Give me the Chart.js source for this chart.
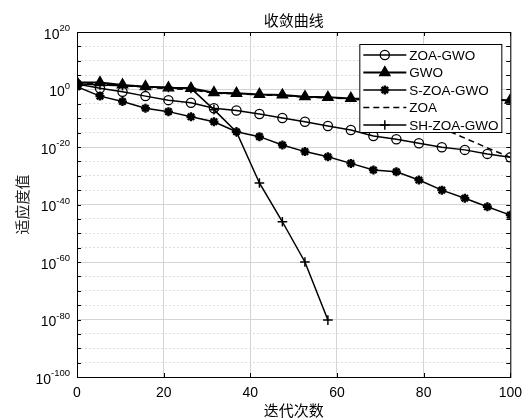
<!DOCTYPE html>
<html>
<head>
<meta charset="utf-8">
<script src="https://cdn.jsdelivr.net/npm/chart.js@4.4.0/dist/chart.umd.min.js"></script>
<style>
html, body { margin: 0; padding: 0; background: #fff; }
</style>
</head>
<body>
<canvas id="fitChart" width="530" height="419"></canvas>
<script>
// iteration numbers where the markers sit
const iterations = [0, 5.3, 10.5, 15.8, 21.1, 26.3, 31.6, 36.8, 42.1, 47.4, 52.6, 57.9, 63.2, 68.4, 73.7, 78.9, 84.2, 89.5, 94.7, 100];

// fitness values, stored as powers of ten
const zoaGwoExp = [1.9, 0.4, -0.8, -2.3, -3.7, -4.6, -6.5, -7.3, -8.5, -9.9, -11.2, -12.7, -14.1, -16.2, -17.3, -18.7, -20.1, -21.0, -22.4, -23.6];
const gwoExp = [2.4, 2.4, 1.6, 1.0, 0.6, 0.4, -1.1, -1.3, -1.7, -1.9, -2.5, -2.7, -3.1, -3.2, -3.3, -3.4, -3.5, -3.6, -3.6, -3.7];
const sZoaGwoExp = [1.0, -2.3, -4.2, -6.5, -7.7, -9.5, -11.2, -14.7, -16.4, -19.3, -21.6, -23.4, -25.7, -28.0, -28.6, -31.5, -35.0, -37.8, -40.8, -43.7];
const zoaExp = [2.2, 2.0, 1.4, 0.8, 0.3, 0.0, -1.3, -1.5, -1.9, -2.1, -2.7, -2.9, -3.3, -4.0, -6.4, -9.9, -13.4, -16.9, -20.3, -23.6];
const shZoaGwoExp = [2.0, 1.6, 1.3, 1.0, 0.7, 0.4, -7.0, -14.8, -32.5, -46.0, -60.0, -80.2];

const seriesNames = ['ZOA-GWO', 'GWO', 'S-ZOA-GWO', 'ZOA', 'SH-ZOA-GWO'];
const xTicks = [0, 20, 40, 60, 80, 100];
const yTickExps = [20, 0, -20, -40, -60, -80, -100];
const yGridExps = [20, 15, 10, 5, 0, -5, -10, -15, -20, -25, -30, -35, -40, -45, -50, -55, -60, -65, -70, -75, -80, -85, -90, -95, -100];

const titleText = '收敛曲线';
const xTitle = '迭代次数';
const yTitle = '适应度值';

const latinFont = '"Liberation Sans", Arial, "DejaVu Sans", sans-serif';
const cjkFont = '"Noto Sans CJK SC", "Liberation Sans", sans-serif';

function toPoints(exps) {
    return exps.map((e, i) => ({ x: iterations[i], y: Math.pow(10, e) }));
}

// frame with inward ticks, title, 10^n labels and the legend box inside the plot
const framePlugin = {
    id: 'frame',
    beforeDatasetsDraw(chart) {
        const a = chart.chartArea;
        const ctx = chart.ctx;
        const xs = chart.scales.x, ys = chart.scales.y;
        ctx.save();
        ctx.strokeStyle = '#000';
        ctx.lineWidth = 1;
        ctx.strokeRect(a.left + 0.5, a.top + 0.5, a.right - a.left, a.bottom - a.top);
        ctx.beginPath();
        xTicks.forEach(v => {
            const px = Math.round(xs.getPixelForValue(v)) + 0.5;
            ctx.moveTo(px, a.bottom); ctx.lineTo(px, a.bottom - 4);
            ctx.moveTo(px, a.top); ctx.lineTo(px, a.top + 4);
        });
        yGridExps.forEach(e => {
            const py = Math.round(ys.getPixelForValue(Math.pow(10, e))) + 0.5;
            ctx.moveTo(a.left, py); ctx.lineTo(a.left + 4, py);
            ctx.moveTo(a.right, py); ctx.lineTo(a.right - 4, py);
        });
        ctx.stroke();
        ctx.restore();
    },
    afterDraw(chart) {
        const a = chart.chartArea;
        const ctx = chart.ctx;
        const ys = chart.scales.y;
        ctx.save();
        ctx.fillStyle = '#000';
        ctx.font = '15px ' + cjkFont;
        ctx.textAlign = 'center';
        ctx.textBaseline = 'middle';
        ctx.fillText(titleText, (a.left + a.right) / 2, 20);

        // y tick labels as 10 with a raised exponent
        yTickExps.forEach(e => {
            const py = ys.getPixelForValue(Math.pow(10, e));
            const rx = a.left - 7;
            ctx.textAlign = 'right';
            ctx.textBaseline = 'alphabetic';
            ctx.font = '9.5px ' + latinFont;
            const es = String(e);
            const ew = ctx.measureText(es).width;
            ctx.fillText(es, rx, py - 1);
            ctx.font = '14px ' + latinFont;
            ctx.fillText('10', rx - ew, py + 6.5);
        });

        // legend
        const bx = a.right - 151, by = a.top + 12, bw = 142, bh = 88;
        ctx.fillStyle = '#fff';
        ctx.fillRect(bx, by, bw, bh);
        ctx.strokeStyle = '#000';
        ctx.lineWidth = 1;
        ctx.strokeRect(bx + 0.5, by + 0.5, bw, bh);
        chart.data.datasets.forEach((ds, i) => {
            const y = by + 11 + i * 17.5;
            const x0 = bx + 4, x1 = bx + 47;
            ctx.save();
            ctx.strokeStyle = '#000';
            ctx.lineWidth = ds.borderWidth;
            ctx.setLineDash(ds.borderDash || []);
            ctx.beginPath();
            ctx.moveTo(x0, y);
            ctx.lineTo(x1, y);
            ctx.stroke();
            ctx.restore();
            if (ds.pointRadius > 0) {
                ctx.fillStyle = ds.pointBackgroundColor;
                ctx.strokeStyle = '#000';
                ctx.lineWidth = ds.pointBorderWidth;
                Chart.helpers.drawPoint(ctx, {
                    pointStyle: ds.pointStyle,
                    radius: ds.pointRadius,
                    borderWidth: ds.pointBorderWidth,
                    rotation: 0
                }, (x0 + x1) / 2, y);
            }
            ctx.fillStyle = '#000';
            ctx.font = '13.5px ' + latinFont;
            ctx.textAlign = 'left';
            ctx.textBaseline = 'middle';
            ctx.fillText(ds.label, x1 + 3, y + 1);
        });
        ctx.restore();
    }
};

const ctx = document.getElementById('fitChart').getContext('2d');
const fitChart = new Chart(ctx, {
    type: 'line',
    data: {
        datasets: [{
            label: seriesNames[0],
            data: toPoints(zoaGwoExp),
            borderColor: '#000',
            borderWidth: 1.5,
            pointStyle: 'circle',
            pointRadius: 4.6,
            pointBorderWidth: 1.3,
            pointBackgroundColor: 'rgba(255,255,255,0)',
            pointBorderColor: '#000'
        }, {
            label: seriesNames[1],
            data: toPoints(gwoExp),
            borderColor: '#000',
            borderWidth: 2,
            pointStyle: 'triangle',
            pointRadius: 6,
            pointBorderWidth: 1.3,
            pointBackgroundColor: '#000',
            pointBorderColor: '#000'
        }, {
            label: seriesNames[2],
            data: toPoints(sZoaGwoExp),
            borderColor: '#000',
            borderWidth: 1.5,
            pointStyle: 'star',
            pointRadius: 4.5,
            pointBorderWidth: 2.4,
            pointBackgroundColor: '#000',
            pointBorderColor: '#000'
        }, {
            label: seriesNames[3],
            data: toPoints(zoaExp),
            borderColor: '#000',
            borderWidth: 1.5,
            borderDash: [6, 4],
            pointRadius: 0,
            pointBorderWidth: 0,
            pointBackgroundColor: '#000'
        }, {
            label: seriesNames[4],
            data: toPoints(shZoaGwoExp),
            borderColor: '#000',
            borderWidth: 1.5,
            pointStyle: 'cross',
            pointRadius: 4.8,
            pointBorderWidth: 1.5,
            pointBackgroundColor: '#000',
            pointBorderColor: '#000'
        }]
    },
    options: {
        responsive: false,
        animation: false,
        layout: { padding: { left: 0, right: 14, top: 32, bottom: 0 } },
        plugins: {
            legend: { display: false },
            tooltip: { enabled: false }
        },
        scales: {
            x: {
                type: 'linear',
                min: 0,
                max: 100,
                afterBuildTicks: scale => { scale.ticks = xTicks.map(v => ({ value: v })); },
                afterFit: scale => { scale.height = 42; },
                grid: { color: '#d4d4d4', lineWidth: 1, drawTicks: false },
                border: { display: false },
                ticks: {
                    color: '#000',
                    padding: 8,
                    font: { family: latinFont, size: 14 },
                    maxRotation: 0
                },
                title: {
                    display: true,
                    text: xTitle,
                    color: '#000',
                    font: { family: cjkFont, size: 15 },
                    padding: { top: 0, bottom: 0 }
                }
            },
            y: {
                type: 'logarithmic',
                min: 1e-100,
                max: 1e20,
                afterBuildTicks: scale => { scale.ticks = yGridExps.map(e => ({ value: Math.pow(10, e) })); },
                afterFit: scale => { scale.width = 77; },
                grid: {
                    drawTicks: false,
                    lineWidth: 1,
                    color: c => {
                        if (!c.tick) return '#d4d4d4';
                        const e = Math.round(Math.log10(c.tick.value));
                        return e % 20 === 0 ? '#d4d4d4' : '#dedede';
                    }
                },
                border: {
                    display: false,
                    dash: c => {
                        if (!c.tick) return [];
                        const e = Math.round(Math.log10(c.tick.value));
                        return e % 20 === 0 ? [] : [2, 2];
                    }
                },
                ticks: { display: false },
                title: {
                    display: true,
                    text: yTitle,
                    color: '#222',
                    font: { family: cjkFont, size: 15 },
                    padding: { top: 13, bottom: 0 }
                }
            }
        }
    },
    plugins: [framePlugin]
});
</script>
</body>
</html>
